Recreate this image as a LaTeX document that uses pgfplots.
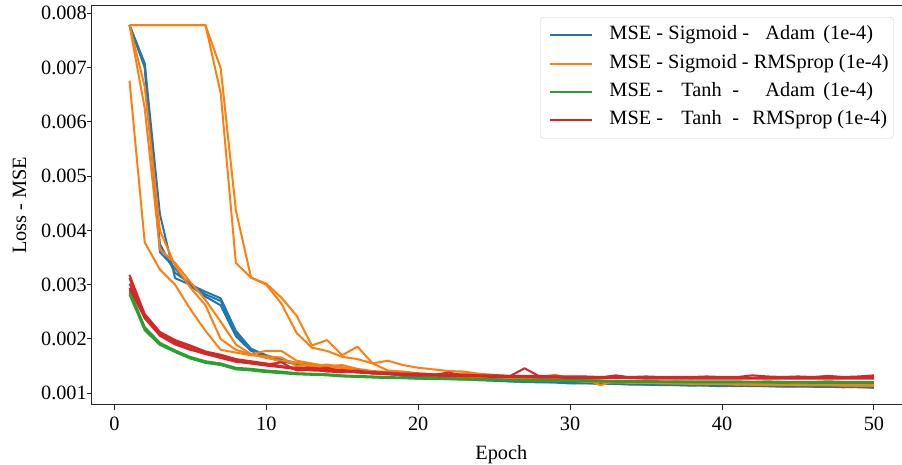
\documentclass[border=0pt]{standalone}
\usepackage{fontspec}
\setmainfont{Liberation Serif}
\usepackage{pgfplots}
\usepackage{pgfplotstable}
\pgfplotsset{compat=1.18}
\definecolor{tabblue}{HTML}{1F77B4}
\definecolor{taborange}{HTML}{FF7F0E}
\definecolor{tabgreen}{HTML}{2CA02C}
\definecolor{tabred}{HTML}{D62728}
\newcommand\lt[2]{\makebox[0pt][l]{\hspace*{#1pt}#2}}
\newcommand\leg[1]{\makebox[275pt][l]{#1}}

\pgfplotstableread{
e b1 b2 b3
1 0.00778 0.00778 0.00778
2 0.00708 0.00700 0.00704
3 0.00430 0.00375 0.00360
4 0.00312 0.00322 0.00330
5 0.00300 0.00302 0.00298
6 0.00287 0.00282 0.00278
7 0.00275 0.00270 0.00262
8 0.00215 0.00210 0.00205
9 0.00182 0.00180 0.00178
10 0.00170 0.00166 0.00168
11 0.00162 0.00160 0.00158
12 0.00156 0.00153 0.00155
13 0.00152 0.00150 0.00149
14 0.00148 0.00146 0.00147
15 0.00146 0.00143 0.00144
16 0.00142 0.00140 0.00141
17 0.00140 0.00138 0.00137
18 0.00136 0.00135 0.00136
19 0.00134 0.00133 0.00132
20 0.00132 0.00131 0.00130
21 0.00131 0.00129 0.00129
22 0.00129 0.00128 0.00127
23 0.00128 0.00126 0.00127
24 0.00126 0.00125 0.00124
25 0.00125 0.00124 0.00123
26 0.00123 0.00122 0.00122
27 0.00122 0.00121 0.00121
28 0.00123 0.00121 0.00120
29 0.00121 0.00120 0.00120
30 0.00120 0.00119 0.00118
31 0.00120 0.00118 0.00119
32 0.00119 0.00118 0.00117
33 0.00118 0.00117 0.00118
34 0.00118 0.00116 0.00117
35 0.00117 0.00116 0.00116
36 0.00117 0.00115 0.00116
37 0.00116 0.00115 0.00115
38 0.00117 0.00115 0.00114
39 0.00116 0.00114 0.00115
40 0.00115 0.00113 0.00114
41 0.00115 0.00114 0.00113
42 0.00114 0.00113 0.00114
43 0.00115 0.00113 0.00113
44 0.00114 0.00112 0.00113
45 0.00114 0.00113 0.00112
46 0.00113 0.00112 0.00113
47 0.00114 0.00112 0.00112
48 0.00113 0.00111 0.00112
49 0.00113 0.00112 0.00111
50 0.00112 0.00110 0.00111
}\tblB

\pgfplotstableread{
e o1 o2 o3 o4 o5
1 0.00676 0.00778 0.00778 0.00778 0.00778
2 0.00378 0.00665 0.00625 0.00778 0.00778
3 0.00328 0.00400 0.00365 0.00778 0.00778
4 0.00300 0.00335 0.00340 0.00778 0.00778
5 0.00255 0.00295 0.00305 0.00778 0.00778
6 0.00215 0.00262 0.00272 0.00778 0.00778
7 0.00180 0.00200 0.00232 0.00699 0.00653
8 0.00175 0.00180 0.00190 0.00437 0.00340
9 0.00170 0.00172 0.00172 0.00313 0.00313
10 0.00168 0.00178 0.00165 0.00302 0.00300
11 0.00166 0.00178 0.00160 0.00276 0.00265
12 0.00150 0.00160 0.00156 0.00243 0.00211
13 0.00152 0.00155 0.00150 0.00188 0.00184
14 0.00146 0.00150 0.00153 0.00198 0.00178
15 0.00147 0.00152 0.00148 0.00170 0.00167
16 0.00141 0.00145 0.00143 0.00186 0.00163
17 0.00139 0.00141 0.00140 0.00155 0.00155
18 0.00137 0.00139 0.00139 0.00160 0.00142
19 0.00136 0.00137 0.00136 0.00152 0.00140
20 0.00134 0.00135 0.00134 0.00147 0.00137
21 0.00133 0.00134 0.00133 0.00144 0.00135
22 0.00131 0.00132 0.00133 0.00141 0.00134
23 0.00130 0.00131 0.00131 0.00140 0.00137
24 0.00129 0.00130 0.00129 0.00136 0.00133
25 0.00128 0.00128 0.00128 0.00134 0.00131
26 0.00126 0.00127 0.00127 0.00132 0.00130
27 0.00125 0.00126 0.00126 0.00131 0.00129
28 0.00124 0.00126 0.00125 0.00130 0.00128
29 0.00123 0.00125 0.00124 0.00134 0.00127
30 0.00123 0.00124 0.00123 0.00127 0.00126
31 0.00122 0.00121 0.00122 0.00126 0.00127
32 0.00121 0.00122 0.00121 0.00115 0.00124
33 0.00120 0.00121 0.00120 0.00123 0.00122
34 0.00120 0.00119 0.00121 0.00121 0.00122
35 0.00119 0.00120 0.00119 0.00122 0.00121
36 0.00119 0.00118 0.00119 0.00120 0.00121
37 0.00118 0.00119 0.00118 0.00122 0.00120
38 0.00118 0.00117 0.00118 0.00119 0.00121
39 0.00117 0.00118 0.00118 0.00120 0.00119
40 0.00118 0.00117 0.00117 0.00118 0.00119
41 0.00117 0.00116 0.00117 0.00119 0.00118
42 0.00116 0.00117 0.00116 0.00117 0.00118
43 0.00117 0.00116 0.00116 0.00118 0.00117
44 0.00116 0.00115 0.00116 0.00116 0.00118
45 0.00115 0.00116 0.00115 0.00117 0.00116
46 0.00116 0.00115 0.00115 0.00116 0.00117
47 0.00115 0.00115 0.00116 0.00117 0.00116
48 0.00115 0.00114 0.00115 0.00115 0.00116
49 0.00114 0.00115 0.00114 0.00116 0.00115
50 0.00115 0.00114 0.00114 0.00115 0.00115
}\tblO

\pgfplotstableread{
e g1 g2 g3
1 0.00290 0.00286 0.00282
2 0.00222 0.00219 0.00216
3 0.00193 0.00191 0.00189
4 0.00179 0.00177 0.00176
5 0.00167 0.00165 0.00164
6 0.00159 0.00157 0.00156
7 0.00155 0.00153 0.00152
8 0.00147 0.00146 0.00144
9 0.00145 0.00143 0.00142
10 0.00142 0.00140 0.00139
11 0.00140 0.00138 0.00137
12 0.00137 0.00136 0.00135
13 0.00136 0.00135 0.00134
14 0.00135 0.00134 0.00133
15 0.00133 0.00132 0.00131
16 0.00132 0.00131 0.00130
17 0.00131 0.00130 0.00129
18 0.00130 0.00129 0.00128
19 0.00129 0.00128 0.00128
20 0.00128 0.00127 0.00127
21 0.00128 0.00127 0.00126
22 0.00127 0.00126 0.00126
23 0.00127 0.00126 0.00125
24 0.00126 0.00125 0.00125
25 0.00126 0.00125 0.00124
26 0.00125 0.00124 0.00124
27 0.00125 0.00124 0.00123
28 0.00125 0.00124 0.00123
29 0.00124 0.00123 0.00123
30 0.00124 0.00123 0.00122
31 0.00124 0.00123 0.00122
32 0.00123 0.00122 0.00122
33 0.00123 0.00122 0.00121
34 0.00123 0.00122 0.00121
35 0.00123 0.00122 0.00121
36 0.00122 0.00121 0.00121
37 0.00122 0.00121 0.00120
38 0.00122 0.00121 0.00120
39 0.00122 0.00121 0.00120
40 0.00122 0.00121 0.00120
41 0.00122 0.00121 0.00120
42 0.00121 0.00121 0.00120
43 0.00122 0.00120 0.00120
44 0.00121 0.00121 0.00119
45 0.00121 0.00120 0.00120
46 0.00121 0.00120 0.00119
47 0.00122 0.00120 0.00119
48 0.00121 0.00120 0.00119
49 0.00121 0.00120 0.00119
50 0.00121 0.00120 0.00119
}\tblG

\pgfplotstableread{
e r1 r2 r3 r4
1 0.00318 0.00312 0.00302 0.00294
2 0.00246 0.00243 0.00240 0.00238
3 0.00213 0.00211 0.00208 0.00206
4 0.00198 0.00195 0.00192 0.00190
5 0.00188 0.00186 0.00182 0.00180
6 0.00177 0.00175 0.00172 0.00173
7 0.00171 0.00169 0.00166 0.00165
8 0.00163 0.00161 0.00159 0.00158
9 0.00159 0.00157 0.00155 0.00155
10 0.00155 0.00153 0.00152 0.00151
11 0.00150 0.00157 0.00149 0.00148
12 0.00146 0.00142 0.00147 0.00144
13 0.00147 0.00144 0.00142 0.00145
14 0.00143 0.00147 0.00141 0.00140
15 0.00142 0.00140 0.00143 0.00139
16 0.00141 0.00139 0.00138 0.00142
17 0.00139 0.00137 0.00137 0.00136
18 0.00138 0.00136 0.00135 0.00137
19 0.00136 0.00135 0.00136 0.00134
20 0.00136 0.00134 0.00134 0.00133
21 0.00135 0.00134 0.00133 0.00133
22 0.00134 0.00138 0.00132 0.00132
23 0.00134 0.00133 0.00132 0.00131
24 0.00133 0.00132 0.00133 0.00131
25 0.00133 0.00132 0.00131 0.00130
26 0.00132 0.00131 0.00131 0.00130
27 0.00132 0.00146 0.00130 0.00130
28 0.00132 0.00131 0.00130 0.00129
29 0.00131 0.00130 0.00131 0.00129
30 0.00131 0.00130 0.00129 0.00128
31 0.00131 0.00130 0.00129 0.00128
32 0.00130 0.00129 0.00129 0.00128
33 0.00131 0.00133 0.00129 0.00128
34 0.00130 0.00129 0.00128 0.00128
35 0.00131 0.00129 0.00128 0.00127
36 0.00130 0.00129 0.00129 0.00127
37 0.00130 0.00129 0.00128 0.00127
38 0.00130 0.00128 0.00128 0.00127
39 0.00131 0.00129 0.00128 0.00127
40 0.00130 0.00129 0.00128 0.00127
41 0.00130 0.00129 0.00128 0.00127
42 0.00133 0.00129 0.00128 0.00127
43 0.00131 0.00129 0.00128 0.00127
44 0.00130 0.00130 0.00128 0.00127
45 0.00131 0.00129 0.00128 0.00127
46 0.00130 0.00129 0.00128 0.00127
47 0.00132 0.00129 0.00128 0.00127
48 0.00130 0.00129 0.00128 0.00127
49 0.00131 0.00129 0.00129 0.00127
50 0.00133 0.00130 0.00128 0.00127
}\tblR

\begin{document}
\begin{tikzpicture}[font=\fontsize{20.3}{24}\selectfont]
\useasboundingbox (0,0) rectangle (902pt,465pt);
\begin{axis}[
  at={(92pt,60pt)}, anchor=south west,
  scale only axis, width=818.7pt, height=399pt,
  xmin=-1.47, xmax=52.42, ymin=0.000784, ymax=0.008134,
  xtick={0,10,20,30,40,50}, xticklabels={0,10,20,30,40,50},
  ytick={0.001,0.002,0.003,0.004,0.005,0.006,0.007,0.008},
  yticklabels={0.001,0.002,0.003,0.004,0.005,0.006,0.007,0.008},
  scaled y ticks=false, scaled x ticks=false,
  /pgf/number format/assume math mode=true,
  tick align=outside, major tick length=5pt,
  xtick pos=left, ytick pos=left,
  axis line style={black!85, line width=1pt},
  every tick/.style={black!85, line width=1pt},
  yticklabel style={anchor=east, inner sep=0pt},
  xticklabel style={anchor=base, inner sep=0pt, yshift=-20.5pt},
  xlabel={Epoch}, ylabel={Loss - MSE},
  xlabel style={at={(axis description cs:0.5,-0.13534)}, anchor=base, inner sep=0pt},
  ylabel style={at={(axis description cs:-0.08856,0.5)}, anchor=center, inner sep=0pt},
  legend style={at={(axis description cs:0.9792,0.9724)}, anchor=north east,
    draw=black!20, rounded corners=3pt, fill=white, fill opacity=0.8, text opacity=1,
    inner xsep=9pt, inner ysep=8.4pt, row sep=9.4pt, column sep=16pt,
    nodes={inner sep=0pt, text height=14pt, text depth=5pt},
    font=\fontsize{20.3}{24}\selectfont},
  legend cell align=left,
  legend image code/.code={\draw[#1] (0pt,0pt) -- (42pt,0pt);},
  no markers,
  every axis plot/.append style={line width=2pt, line join=round},
]
\addlegendimage{tabblue, line width=2pt}
\addlegendentry{\leg{\lt{0}{MSE -}\lt{59}{Sigmoid -}\lt{156}{Adam}\lt{214}{(1e-4)}}}
\addlegendimage{taborange, line width=2pt}
\addlegendentry{\leg{\lt{0}{MSE - Sigmoid - RMSprop (1e-4)}}}
\addlegendimage{tabgreen, line width=2pt}
\addlegendentry{\leg{\lt{0}{MSE -}\lt{72}{Tanh}\lt{123}{-}\lt{156}{Adam}\lt{214}{(1e-4)}}}
\addlegendimage{tabred, line width=2pt}
\addlegendentry{\leg{\lt{0}{MSE -}\lt{72}{Tanh}\lt{123}{-}\lt{143}{RMSprop}\lt{228}{(1e-4)}}}
\addplot[tabblue,forget plot] table[x=e,y=b1]{\tblB};
\addplot[tabblue,forget plot] table[x=e,y=b2]{\tblB};
\addplot[tabblue,forget plot] table[x=e,y=b3]{\tblB};
\addplot[taborange,forget plot] table[x=e,y=o1]{\tblO};
\addplot[taborange,forget plot] table[x=e,y=o2]{\tblO};
\addplot[taborange,forget plot] table[x=e,y=o3]{\tblO};
\addplot[taborange,forget plot] table[x=e,y=o4]{\tblO};
\addplot[taborange,forget plot] table[x=e,y=o5]{\tblO};
\addplot[tabgreen,forget plot] table[x=e,y=g1]{\tblG};
\addplot[tabgreen,forget plot] table[x=e,y=g2]{\tblG};
\addplot[tabgreen,forget plot] table[x=e,y=g3]{\tblG};
\addplot[tabred,forget plot] table[x=e,y=r1]{\tblR};
\addplot[tabred,forget plot] table[x=e,y=r2]{\tblR};
\addplot[tabred,forget plot] table[x=e,y=r3]{\tblR};
\addplot[tabred,forget plot] table[x=e,y=r4]{\tblR};
\end{axis}
\end{tikzpicture}
\end{document}
